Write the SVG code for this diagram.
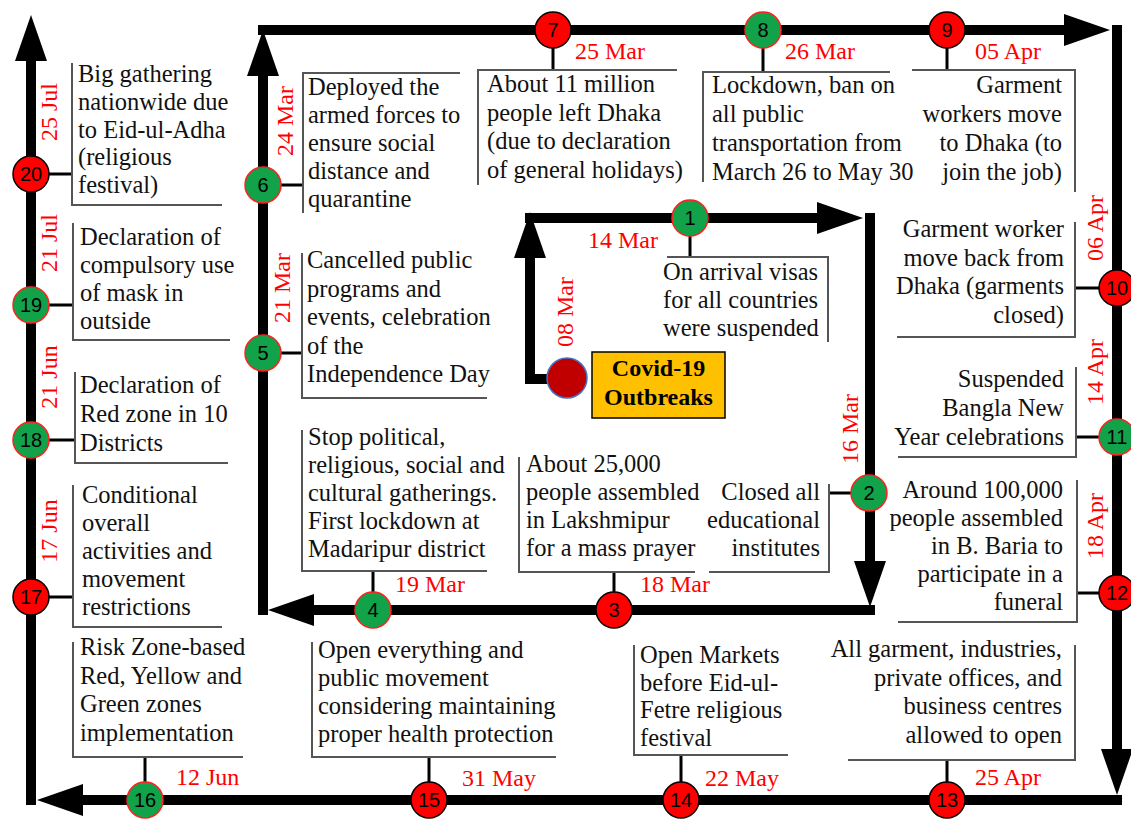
<svg xmlns="http://www.w3.org/2000/svg" width="1131" height="822" viewBox="0 0 1131 822">
<style>
.bg{fill:#fff}
.flow{fill:none;stroke:#000;stroke-width:10;stroke-linejoin:miter}
.stub{stroke:#000;stroke-width:3;fill:none}
.br{stroke:#555;stroke-width:2;fill:none}
.t{font-size:24.5px;fill:#111}
.r{text-anchor:end}
.d{font-size:24px;fill:#ff0000}
.dm{text-anchor:middle}
.red{fill:#ff0000;stroke:#000;stroke-width:1.5}
.grn{fill:#12a24a;stroke:#ff2020;stroke-width:1.5}
.n{font-size:20px;fill:#000;text-anchor:middle}
.cv{font-size:24px;font-weight:bold;fill:#000;text-anchor:middle}
</style>
<defs>
<marker id="ah" markerUnits="userSpaceOnUse" markerWidth="46" markerHeight="32" viewBox="0 0 46 32" refX="20" refY="16" orient="auto">
<path d="M0,0 L46,16 L0,32 z" fill="#000"/>
</marker>
</defs>
<rect class="bg" x="0" y="0" width="1131" height="822"/>

<g id="connectors">
<path class="flow" d="M548,379 H530 V238" marker-end="url(#ah)"/>
<path class="flow" d="M525,218 H837" marker-end="url(#ah)"/>
<path class="flow" d="M870,213 V581" marker-end="url(#ah)"/>
<path class="flow" d="M875,610 H294" marker-end="url(#ah)"/>
<path class="flow" d="M263,615 V56" marker-end="url(#ah)"/>
<path class="flow" d="M258,30 H1084" marker-end="url(#ah)"/>
<path class="flow" d="M1117,25 V769" marker-end="url(#ah)"/>
<path class="flow" d="M1122,800 H63" marker-end="url(#ah)"/>
<path class="flow" d="M31,805 V41" marker-end="url(#ah)"/>
<path class="stub" d="M690,236 V257"/>
<path class="stub" d="M829,493 H851"/>
<path class="stub" d="M614,572 V592"/>
<path class="stub" d="M373,571 V592"/>
<path class="stub" d="M281,353 H302"/>
<path class="stub" d="M281,185 H303"/>
<path class="stub" d="M553,48 V70"/>
<path class="stub" d="M763,48 V72"/>
<path class="stub" d="M947,48 V70"/>
<path class="stub" d="M1075,288 H1099"/>
<path class="stub" d="M1076,437 H1099"/>
<path class="stub" d="M1077,593 H1099"/>
<path class="stub" d="M947,760 V782"/>
<path class="stub" d="M681,755 V782"/>
<path class="stub" d="M429,757 V782"/>
<path class="stub" d="M145,757 V782"/>
<path class="stub" d="M49,597 H73"/>
<path class="stub" d="M49,440 H75"/>
<path class="stub" d="M49,305 H73"/>
<path class="stub" d="M49,174 H72"/>
</g>

<g id="nodes" font-family="'Liberation Serif', 'DejaVu Serif', 'Times New Roman', serif">

<g id="start">
<circle cx="567" cy="378" r="20" fill="#c00000" stroke="#4472c4" stroke-width="1.5"/>
<rect x="592" y="352" width="133" height="66" fill="#ffc000" stroke="#000" stroke-width="1.5"/>
<text class="cv" x="658.5" y="376">Covid-19</text>
<text class="cv" x="658.5" y="405">Outbreaks</text>
<text class="d dm" transform="translate(573,312) rotate(-90)">08 Mar</text>
</g>

<g id="node-1">
<path class="br" d="M667,257 H828 V342"/>
<circle class="grn" cx="690" cy="218" r="18"/><text class="n" x="690" y="225" font-family="'Liberation Sans', Arial, sans-serif">1</text>
<text class="d" x="588" y="248">14 Mar</text>
<text class="t" x="663" y="280">On arrival visas<tspan x="663" dy="28">for all countries</tspan><tspan x="663" dy="28">were suspended</tspan></text>
</g>

<g id="node-2">
<path class="br" d="M829,484 V572 H709"/>
<circle class="grn" cx="869" cy="493" r="18"/><text class="n" x="869" y="500" font-family="'Liberation Sans', Arial, sans-serif">2</text>
<text class="d dm" transform="translate(858,429) rotate(-90)">16 Mar</text>
<text class="t r" x="820" y="500">Closed all<tspan x="820" dy="28">educational</tspan><tspan x="820" dy="28">institutes</tspan></text>
</g>

<g id="node-3">
<path class="br" d="M519,457 V572 H695"/>
<circle class="red" cx="614" cy="610" r="18"/><text class="n" x="614" y="617" font-family="'Liberation Sans', Arial, sans-serif">3</text>
<text class="d" x="640" y="592">18 Mar</text>
<text class="t" x="526" y="472">About 25,000<tspan x="526" dy="28">people assembled</tspan><tspan x="526" dy="28">in Lakshmipur</tspan><tspan x="526" dy="28">for a mass prayer</tspan></text>
</g>

<g id="node-4">
<path class="br" d="M302,430 V571 H487"/>
<circle class="grn" cx="373" cy="610" r="18"/><text class="n" x="373" y="617" font-family="'Liberation Sans', Arial, sans-serif">4</text>
<text class="d" x="395" y="592">19 Mar</text>
<text class="t" x="308" y="445">Stop political,<tspan x="308" dy="28">religious, social and</tspan><tspan x="308" dy="28">cultural gatherings.</tspan><tspan x="308" dy="28">First lockdown at</tspan><tspan x="308" dy="28">Madaripur district</tspan></text>
</g>

<g id="node-5">
<path class="br" d="M302,253 V398 H487"/>
<circle class="grn" cx="263" cy="353" r="18"/><text class="n" x="263" y="360" font-family="'Liberation Sans', Arial, sans-serif">5</text>
<text class="d dm" transform="translate(290,288) rotate(-90)">21 Mar</text>
<text class="t" x="307" y="268">Cancelled public<tspan x="307" dy="28.5">programs and</tspan><tspan x="307" dy="28.5">events, celebration</tspan><tspan x="307" dy="28.5">of the</tspan><tspan x="307" dy="28.5">Independence Day</tspan></text>
</g>

<g id="node-6">
<path class="br" d="M460,73 H303 V213"/>
<circle class="grn" cx="263" cy="185" r="18"/><text class="n" x="263" y="192" font-family="'Liberation Sans', Arial, sans-serif">6</text>
<text class="d dm" transform="translate(293,121) rotate(-90)">24 Mar</text>
<text class="t" x="308" y="95">Deployed the<tspan x="308" dy="28">armed forces to</tspan><tspan x="308" dy="28">ensure social</tspan><tspan x="308" dy="28">distance and</tspan><tspan x="308" dy="28">quarantine</tspan></text>
</g>

<g id="node-7">
<path class="br" d="M677,70 H478 V185"/>
<circle class="red" cx="553" cy="30" r="18"/><text class="n" x="553" y="37" font-family="'Liberation Sans', Arial, sans-serif">7</text>
<text class="d" x="575" y="59">25 Mar</text>
<text class="t" x="487" y="92">About 11 million<tspan x="487" dy="28.5">people left Dhaka</tspan><tspan x="487" dy="28.5">(due to declaration</tspan><tspan x="487" dy="28.5">of general holidays)</tspan></text>
</g>

<g id="node-8">
<path class="br" d="M890,72 H703 V182"/>
<circle class="grn" cx="763" cy="30" r="18"/><text class="n" x="763" y="37" font-family="'Liberation Sans', Arial, sans-serif">8</text>
<text class="d" x="785" y="59">26 Mar</text>
<text class="t" x="712" y="93">Lockdown, ban on<tspan x="712" dy="29">all public</tspan><tspan x="712" dy="29">transportation from</tspan><tspan x="712" dy="29">March 26 to May 30</tspan></text>
</g>

<g id="node-9">
<path class="br" d="M912,70 H1075 V192"/>
<circle class="red" cx="947" cy="30" r="18"/><text class="n" x="947" y="37" font-family="'Liberation Sans', Arial, sans-serif">9</text>
<text class="d" x="975" y="59">05 Apr</text>
<text class="t r" x="1062" y="93">Garment<tspan x="1062" dy="29">workers move</tspan><tspan x="1062" dy="29">to Dhaka (to</tspan><tspan x="1062" dy="29">join the job)</tspan></text>
</g>

<g id="node-10">
<path class="br" d="M1075,222 V337 H897"/>
<circle class="red" cx="1117" cy="288" r="18"/><text class="n" x="1117" y="295" font-family="'Liberation Sans', Arial, sans-serif">10</text>
<text class="d dm" transform="translate(1103,228) rotate(-90)">06 Apr</text>
<text class="t r" x="1064" y="237">Garment worker<tspan x="1064" dy="28.5">move back from</tspan><tspan x="1064" dy="28.5">Dhaka (garments</tspan><tspan x="1064" dy="28.5">closed)</tspan></text>
</g>

<g id="node-11">
<path class="br" d="M1076,367 V457 H898"/>
<circle class="grn" cx="1117" cy="437" r="18"/><text class="n" x="1117" y="444" font-family="'Liberation Sans', Arial, sans-serif">11</text>
<text class="d dm" transform="translate(1103,372) rotate(-90)">14 Apr</text>
<text class="t r" x="1064" y="387">Suspended<tspan x="1064" dy="29">Bangla New</tspan><tspan x="1064" dy="29">Year celebrations</tspan></text>
</g>

<g id="node-12">
<path class="br" d="M1077,480 V622 H898"/>
<circle class="red" cx="1117" cy="593" r="18"/><text class="n" x="1117" y="600" font-family="'Liberation Sans', Arial, sans-serif">12</text>
<text class="d dm" transform="translate(1103,526) rotate(-90)">18 Apr</text>
<text class="t r" x="1063" y="498">Around 100,000<tspan x="1063" dy="28">people assembled</tspan><tspan x="1063" dy="28">in B. Baria to</tspan><tspan x="1063" dy="28">participate in a</tspan><tspan x="1063" dy="28">funeral</tspan></text>
</g>

<g id="node-13">
<path class="br" d="M1075,645 V760 H848"/>
<circle class="red" cx="947" cy="800" r="18"/><text class="n" x="947" y="807" font-family="'Liberation Sans', Arial, sans-serif">13</text>
<text class="d" x="975" y="785">25 Apr</text>
<text class="t r" x="1062" y="657">All garment, industries,<tspan x="1062" dy="28.5">private offices, and</tspan><tspan x="1062" dy="28.5">business centres</tspan><tspan x="1062" dy="28.5">allowed to open</tspan></text>
</g>

<g id="node-14">
<path class="br" d="M634,645 V755 H788"/>
<circle class="red" cx="681" cy="800" r="18"/><text class="n" x="681" y="807" font-family="'Liberation Sans', Arial, sans-serif">14</text>
<text class="d" x="705" y="786">22 May</text>
<text class="t" x="640" y="663">Open Markets<tspan x="640" dy="27.5">before Eid-ul-</tspan><tspan x="640" dy="27.5">Fetre religious</tspan><tspan x="640" dy="27.5">festival</tspan></text>
</g>

<g id="node-15">
<path class="br" d="M312,642 V757 H556"/>
<circle class="red" cx="429" cy="800" r="18"/><text class="n" x="429" y="807" font-family="'Liberation Sans', Arial, sans-serif">15</text>
<text class="d" x="462" y="786">31 May</text>
<text class="t" x="318" y="658">Open everything and<tspan x="318" dy="28">public movement</tspan><tspan x="318" dy="28">considering maintaining</tspan><tspan x="318" dy="28">proper health protection</tspan></text>
</g>

<g id="node-16">
<path class="br" d="M73,642 V757 H243"/>
<circle class="grn" cx="145" cy="800" r="18"/><text class="n" x="145" y="807" font-family="'Liberation Sans', Arial, sans-serif">16</text>
<text class="d" x="176" y="785">12 Jun</text>
<text class="t" x="80" y="655">Risk Zone-based<tspan x="80" dy="28.5">Red, Yellow and</tspan><tspan x="80" dy="28.5">Green zones</tspan><tspan x="80" dy="28.5">implementation</tspan></text>
</g>

<g id="node-17">
<path class="br" d="M73,485 V627 H222"/>
<circle class="red" cx="31" cy="597" r="18"/><text class="n" x="31" y="604" font-family="'Liberation Sans', Arial, sans-serif">17</text>
<text class="d dm" transform="translate(57,531) rotate(-90)">17 Jun</text>
<text class="t" x="82" y="503">Conditional<tspan x="82" dy="28">overall</tspan><tspan x="82" dy="28">activities and</tspan><tspan x="82" dy="28">movement</tspan><tspan x="82" dy="28">restrictions</tspan></text>
</g>

<g id="node-18">
<path class="br" d="M75,372 V463 H228"/>
<circle class="grn" cx="31" cy="440" r="18"/><text class="n" x="31" y="447" font-family="'Liberation Sans', Arial, sans-serif">18</text>
<text class="d dm" transform="translate(57,377) rotate(-90)">21 Jun</text>
<text class="t" x="80" y="393">Declaration of<tspan x="80" dy="29">Red zone in 10</tspan><tspan x="80" dy="29">Districts</tspan></text>
</g>

<g id="node-19">
<path class="br" d="M73,223 V340 H230"/>
<circle class="grn" cx="31" cy="305" r="18"/><text class="n" x="31" y="312" font-family="'Liberation Sans', Arial, sans-serif">19</text>
<text class="d dm" transform="translate(57,243) rotate(-90)">21 Jul</text>
<text class="t" x="80" y="245">Declaration of<tspan x="80" dy="28">compulsory use</tspan><tspan x="80" dy="28">of mask in</tspan><tspan x="80" dy="28">outside</tspan></text>
</g>

<g id="node-20">
<path class="br" d="M72,63 V205 H222"/>
<circle class="red" cx="31" cy="174" r="18"/><text class="n" x="31" y="181" font-family="'Liberation Sans', Arial, sans-serif">20</text>
<text class="d dm" transform="translate(57,112) rotate(-90)">25 Jul</text>
<text class="t" x="78" y="82">Big gathering<tspan x="78" dy="27.8">nationwide due</tspan><tspan x="78" dy="27.8">to Eid-ul-Adha</tspan><tspan x="78" dy="27.8">(religious</tspan><tspan x="78" dy="27.8">festival)</tspan></text>
</g>
</g>
</svg>
